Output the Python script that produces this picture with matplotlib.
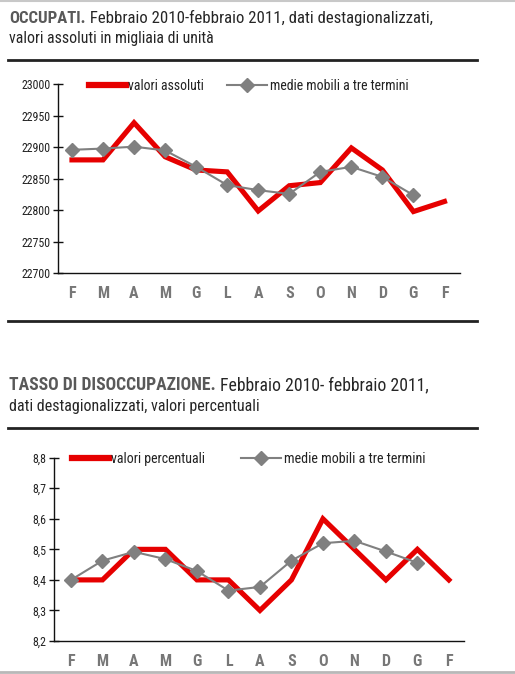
import matplotlib
matplotlib.use("Agg")
import matplotlib.pyplot as plt
from matplotlib.lines import Line2D
from matplotlib import font_manager

# pick a narrow sans font if one is installed
_narrow = None
for pref in ("Liberation Sans Narrow", "Roboto Condensed", "Open Sans Condensed", "Arial Narrow"):
    for f in font_manager.fontManager.ttflist:
        if f.name == pref and f.style == "normal":
            _narrow = f.name
            break
    if _narrow:
        break
BASE = _narrow if _narrow else "Liberation Sans"
plt.rcParams['font.family'] = [BASE, 'DejaVu Sans']

months = ["F", "M", "A", "M", "G", "L", "A", "S", "O", "N", "D", "G", "F"]

occ_values = [22880, 22880, 22939, 22885, 22864, 22861, 22799, 22839, 22844, 22899, 22864, 22798, 22814]
occ_mm = [22896, 22898, 22901, 22895, 22869, 22840, 22832, 22826, 22861, 22869, 22853, 22824]
occ_yticks = [22700, 22750, 22800, 22850, 22900, 22950, 23000]

dis_values = [8.4, 8.4, 8.5, 8.5, 8.4, 8.4, 8.3, 8.4, 8.6, 8.5, 8.4, 8.5, 8.4]
dis_mm = [8.40, 8.463, 8.492, 8.468, 8.429, 8.365, 8.377, 8.463, 8.52, 8.528, 8.493, 8.456]
dis_yticks = [8.2, 8.3, 8.4, 8.5, 8.6, 8.7, 8.8]
dis_yticklabels = ["8,2", "8,3", "8,4", "8,5", "8,6", "8,7", "8,8"]

RED = "#e60000"
GRAY = "#808080"
W, H = 515, 674
fig = plt.figure(figsize=(W / 100, H / 100), dpi=100)
fig.patch.set_facecolor("white")
renderer = fig.canvas.get_renderer()


def fx(px):
    return px / W


def fy(py):
    return 1 - py / H


def fit_size(txt, target, base=10, weight="normal"):
    t = fig.text(0, 0, txt, fontsize=base, fontweight=weight)
    w = t.get_window_extent(renderer=renderer).width
    t.remove()
    return base * target / w


TICK_FS = fit_size("23000", 29)


def style_axes(ax, yticks, yticklabels, ylim, xlim):
    ax.set_ylim(*ylim)
    ax.set_xlim(*xlim)
    ax.set_yticks(yticks)
    ax.set_yticklabels(yticklabels, fontsize=TICK_FS, color="#222222")
    ax.set_xticks(range(len(months)))
    ax.set_xticklabels(months, fontsize=11.5, color="#777777", fontweight="bold")
    for s in ["top", "right"]:
        ax.spines[s].set_visible(False)
    for s in ["left", "bottom"]:
        ax.spines[s].set_linewidth(1.0)
        ax.spines[s].set_color("#111111")
    ax.tick_params(axis="y", direction="inout", length=7, width=1, pad=2, colors="#111111", labelcolor="#222222")
    ax.tick_params(axis="x", length=0, pad=9)
    ax.set_facecolor("white")


def plot_series(ax, values, mm, lab1, lab2, x_red, x_gray, y_leg, w1, w2):
    x1 = list(range(len(values)))
    x2 = list(range(len(mm)))
    l1, = ax.plot(x1, values, color=RED, lw=3.7, solid_joinstyle="miter", zorder=2, clip_on=False)
    l2, = ax.plot(x2, mm, color=GRAY, lw=1.5, marker="D", ms=7.5, mec=GRAY, mfc=GRAY, zorder=3, clip_on=False)
    fs1 = fit_size(lab1, w1)
    fs2 = fit_size(lab2, w2)
    leg1 = ax.legend([l1], [lab1], loc="center left", bbox_to_anchor=(x_red, y_leg), frameon=False,
                     fontsize=fs1, handlelength=37 / (fs1 * 1.389), handletextpad=0.15,
                     borderpad=0, borderaxespad=0)
    ax.add_artist(leg1)
    leg2 = ax.legend([l2], [lab2], loc="center left", bbox_to_anchor=(x_gray, y_leg), frameon=False,
                     fontsize=fs2, handlelength=40 / (fs2 * 1.389), handletextpad=0.2,
                     borderpad=0, borderaxespad=0)
    leg1.legend_handles[0].set_linewidth(4.5)
    for lg in (leg1, leg2):
        for t in lg.get_texts():
            t.set_color("#222222")


# ---- Top chart
L1, R1, T1, B1 = 58, 460, 84.3, 273.3
ax1 = fig.add_axes([fx(L1), fy(B1), fx(R1 - L1), (B1 - T1) / H])
style_axes(ax1, occ_yticks, [str(v) for v in occ_yticks], (22700, 23000), (-0.45, 12.5))
plot_series(ax1, occ_values, occ_mm, "valori assoluti", "medie mobili a tre termini",
            (89 - L1) / (R1 - L1), (227 - L1) / (R1 - L1), 0.99, 76, 139)

# ---- Bottom chart
L2, R2, T2, B2 = 54.3, 464, 457.7, 641
ax2 = fig.add_axes([fx(L2), fy(B2), fx(R2 - L2), (B2 - T2) / H])
style_axes(ax2, dis_yticks, dis_yticklabels, (8.2, 8.8), (-0.53, 12.48))
plot_series(ax2, dis_values, dis_mm, "valori percentuali", "medie mobili a tre termini",
            (72 - L2) / (R2 - L2), (241 - L2) / (R2 - L2), 0.995, 94, 141)


# ---- Titles
def title_line(x, y, parts, target):
    base = 10
    total = 0
    for txt, color, weight in parts:
        t = fig.text(0, 0, txt, fontsize=base, fontweight=weight)
        total += t.get_window_extent(renderer=renderer).width
        t.remove()
    size = base * target / total
    cur = x
    for txt, color, weight in parts:
        t = fig.text(fx(cur), fy(y), txt, fontsize=size, color=color, fontweight=weight,
                     va="baseline", ha="left")
        cur += t.get_window_extent(renderer=renderer).width


TG = "#595959"
TK = "#262626"
title_line(9, 23, [("OCCUPATI.", TG, "bold"),
                   (" Febbraio 2010-febbraio 2011, dati destagionalizzati,", TK, "normal")], 421)
title_line(9, 43.5, [("valori assoluti in migliaia di unità", TK, "normal")], 205)
title_line(9, 390, [("TASSO DI DISOCCUPAZIONE.", TG, "bold"),
                    (" Febbraio 2010- febbraio 2011,", TK, "normal")], 418)
title_line(9, 411, [("dati destagionalizzati, valori percentuali", TK, "normal")], 250)

# ---- Rules
for yy in (59.5, 321, 427.5):
    fig.add_artist(Line2D([fx(8), fx(477)], [fy(yy), fy(yy)], color="#222222", lw=2.0))

fig.add_artist(Line2D([0, 1], [fy(0.7), fy(0.7)], color="#c8c8c8", lw=1.5))
fig.add_artist(Line2D([0, 1], [fy(671.5), fy(671.5)], color="#b8b8b8", lw=2.0))

fig.savefig("out.png", dpi=100, facecolor="white")
